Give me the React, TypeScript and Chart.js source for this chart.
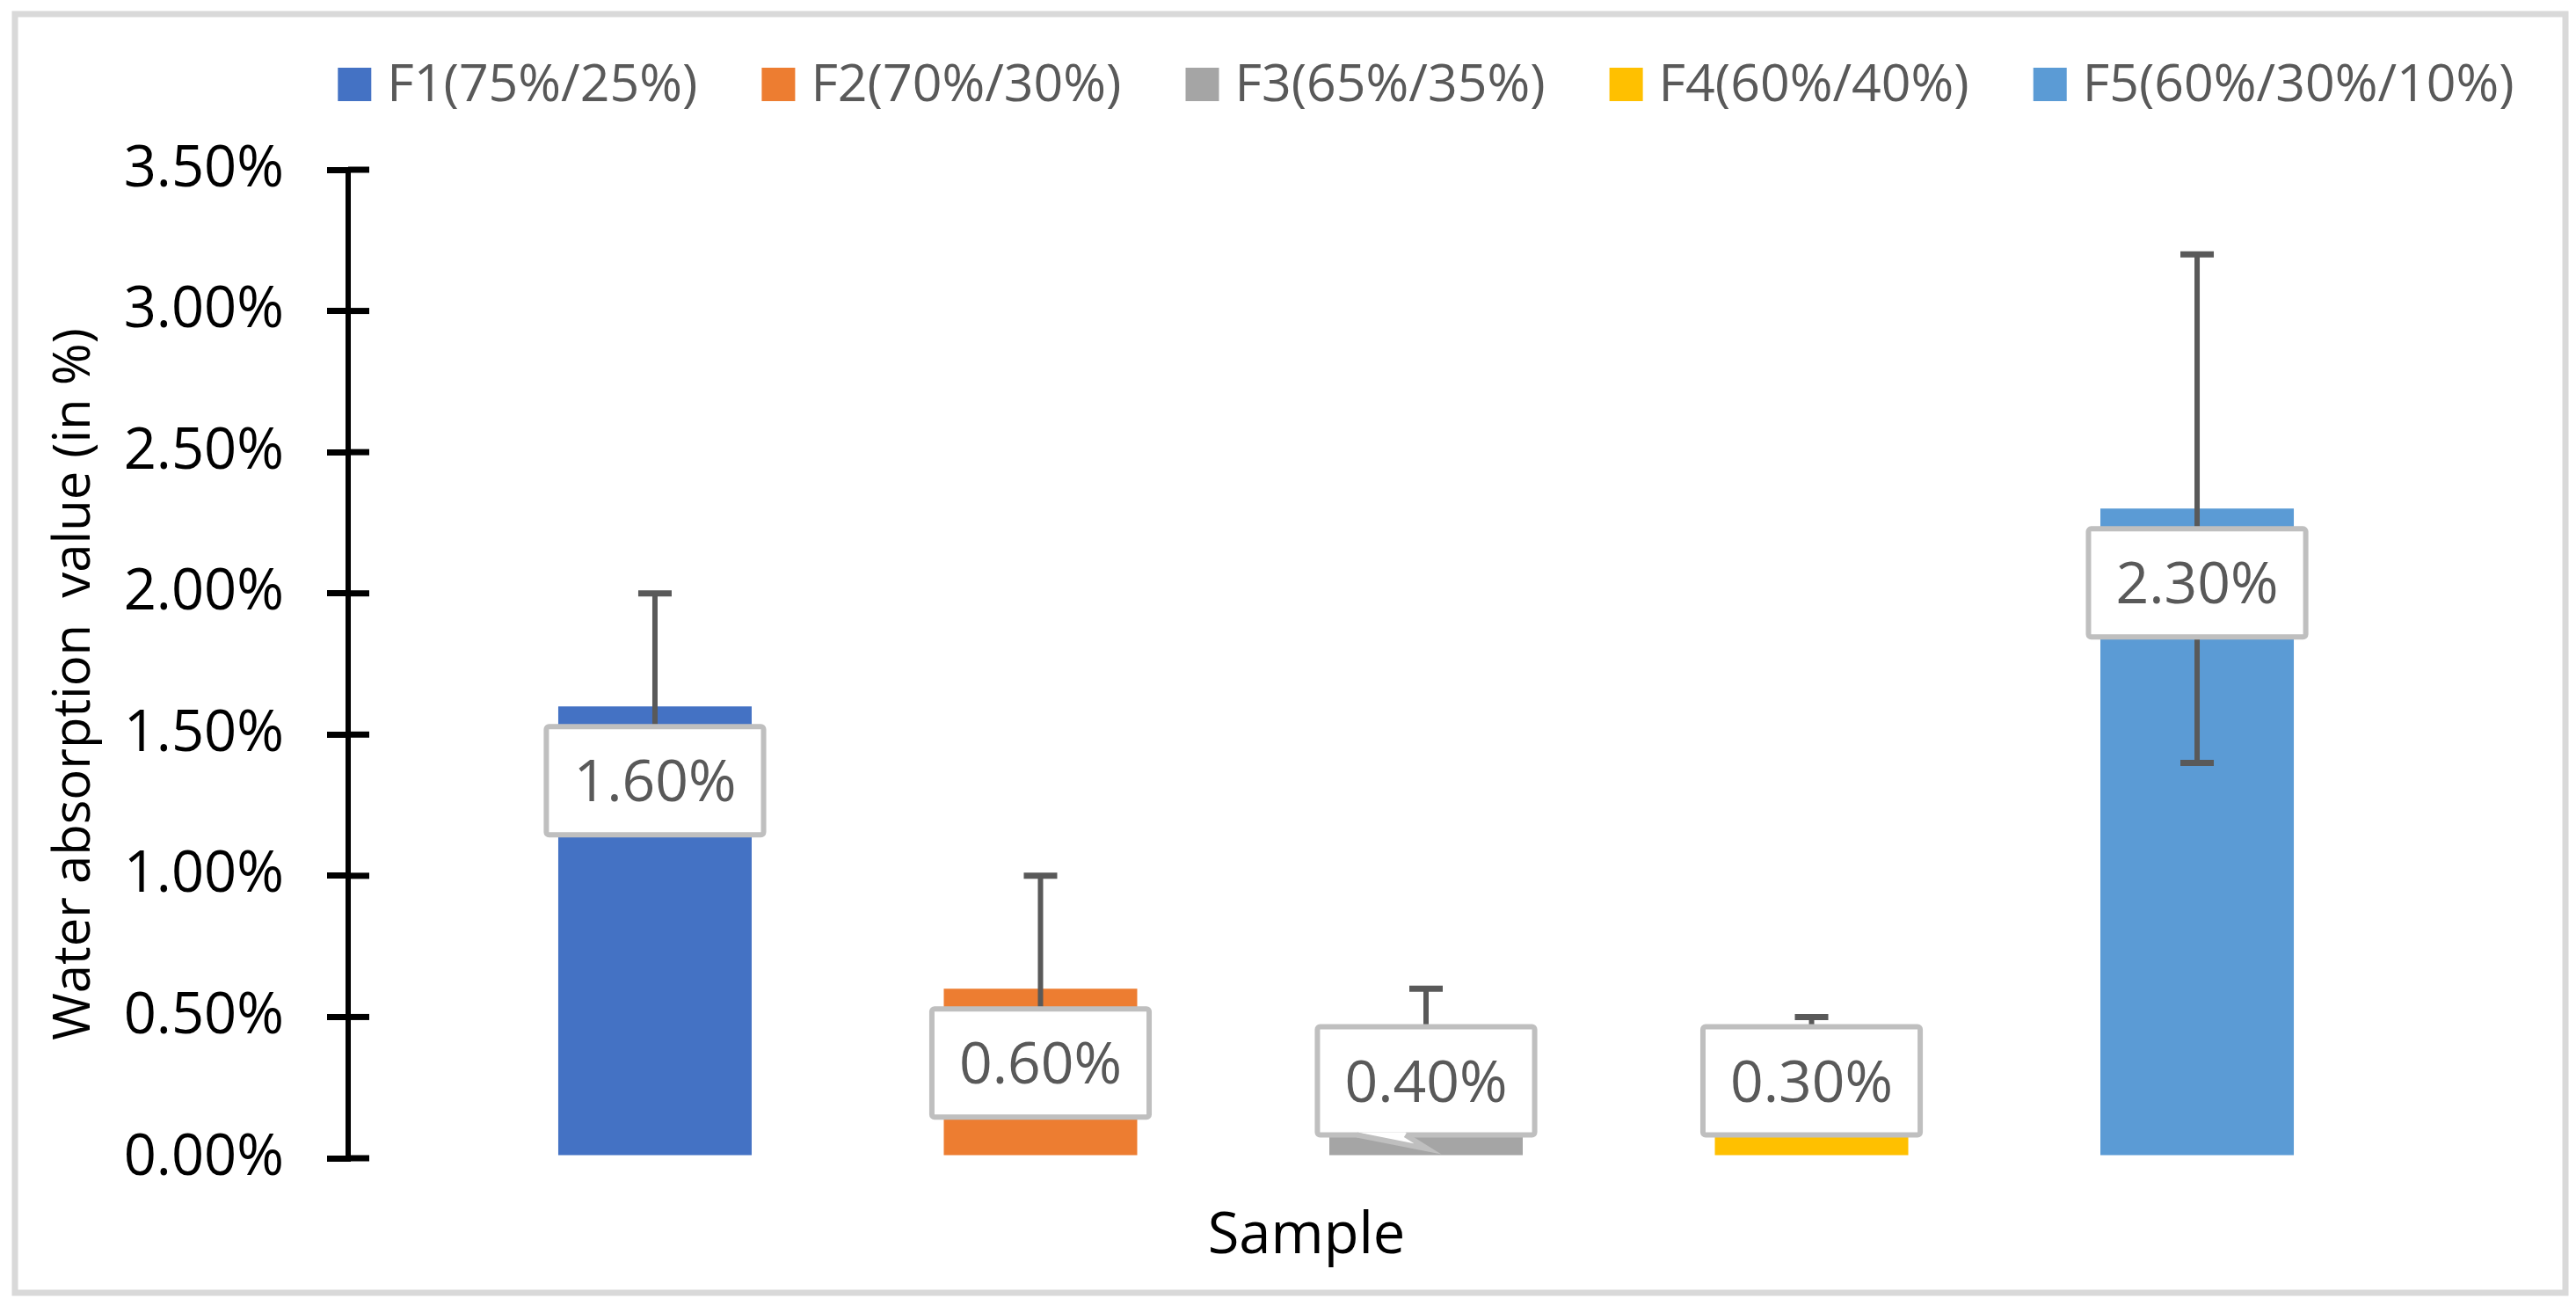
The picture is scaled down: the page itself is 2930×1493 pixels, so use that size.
import { useEffect, useRef } from 'react';
import { Chart, registerables, Plugin } from 'chart.js';

Chart.register(...registerables);

const FONT = '"Open Sans", "Noto Sans", sans-serif';

// chart data
const samples = ['F1(75%/25%)', 'F2(70%/30%)', 'F3(65%/35%)', 'F4(60%/40%)', 'F5(60%/30%/10%)'];
const absorption = [1.6, 0.6, 0.4, 0.3, 2.3];
const errorMargin = [0.4, 0.4, 0.2, 0.2, 0.9];
const colors = ['#4472C4', '#ED7D31', '#A5A5A5', '#FFC000', '#5B9BD5'];
const hasPointer = [false, false, true, false, false];

const yMin = 0;
const yMax = 3.5;
const yStep = 0.5;
const yTitle = 'Water absorption  value (in %)';
const xTitle = 'Sample';

const fmt = (v: number) => v.toFixed(2) + '%';

const decorations: Plugin<'bar'> = {
  id: 'decorations',
  beforeDraw(chart) {
    const { ctx, width, height } = chart;
    ctx.save();
    ctx.fillStyle = '#fff';
    ctx.fillRect(0, 0, width, height);
    // outer frame
    ctx.strokeStyle = '#D9D9D9';
    ctx.lineWidth = 7;
    ctx.strokeRect(17, 16, width - 29, height - 39);
    ctx.restore();
  },
  afterDatasetsDraw(chart) {
    const { ctx } = chart;
    const y = chart.scales.y;
    ctx.save();

    // error bars
    chart.data.datasets.forEach((ds, i) => {
      const bar: any = chart.getDatasetMeta(i).data[0];
      const v = ds.data[0] as number;
      const e = errorMargin[i];
      const top = y.getPixelForValue(v + e);
      const bottom = y.getPixelForValue(v - e);
      ctx.strokeStyle = '#595959';
      ctx.lineWidth = 6;
      ctx.beginPath();
      ctx.moveTo(bar.x, top);
      ctx.lineTo(bar.x, bottom);
      ctx.stroke();
      ctx.lineWidth = 7;
      ctx.beginPath();
      ctx.moveTo(bar.x - 19, top);
      ctx.lineTo(bar.x + 19, top);
      ctx.moveTo(bar.x - 19, bottom);
      ctx.lineTo(bar.x + 19, bottom);
      ctx.stroke();
    });

    // value callouts
    ctx.font = `66px ${FONT}`;
    chart.data.datasets.forEach((ds, i) => {
      const bar: any = chart.getDatasetMeta(i).data[0];
      const text = fmt(ds.data[0] as number);
      const w = ctx.measureText(text).width + 62;
      const h = 123;
      let top = bar.y + 23;
      if (top + h > bar.base - 23) top = bar.base - 23 - h;
      const left = bar.x - w / 2;

      ctx.fillStyle = '#fff';
      ctx.strokeStyle = '#BFBFBF';
      ctx.lineWidth = 6;
      ctx.beginPath();
      ctx.roundRect(left, top, w, h, 3);
      ctx.fill();
      ctx.stroke();

      if (hasPointer[i]) {
        const ax = left + 45;
        const bx = left + 100;
        const tipX = bar.x + 2;
        const tipY = bar.base - 7;
        ctx.beginPath();
        ctx.moveTo(ax, top + h - 3);
        ctx.lineTo(tipX, tipY);
        ctx.lineTo(bx, top + h - 3);
        ctx.closePath();
        ctx.fill();
        ctx.beginPath();
        ctx.moveTo(ax, top + h);
        ctx.lineTo(tipX, tipY);
        ctx.lineTo(bx, top + h);
        ctx.stroke();
      }

      ctx.fillStyle = '#595959';
      ctx.textAlign = 'center';
      ctx.textBaseline = 'alphabetic';
      ctx.fillText(text, bar.x, top + h / 2 + 66 * 0.357);
    });
    ctx.restore();
  },
  afterDraw(chart) {
    const { ctx, chartArea } = chart;
    const y = chart.scales.y;
    ctx.save();

    // inner half of the cross ticks
    ctx.strokeStyle = '#000';
    ctx.lineWidth = 7;
    y.ticks.forEach((_, idx) => {
      const py = y.getPixelForTick(idx);
      ctx.beginPath();
      ctx.moveTo(chartArea.left, py);
      ctx.lineTo(chartArea.left + 24, py);
      ctx.stroke();
    });

    // legend centred over the plot area
    ctx.font = `59px ${FONT}`;
    const box = 38;
    const gapText = 18;
    const gapItem = 73;
    const items = chart.data.datasets.map((ds) => ({
      label: ds.label as string,
      color: ds.backgroundColor as string,
      w: ctx.measureText(ds.label as string).width,
    }));
    const total = items.reduce((s, it) => s + box + gapText + it.w, 0) + gapItem * (items.length - 1);
    let x = (chartArea.left + chartArea.right) / 2 - total / 2;
    const baseline = 115;
    ctx.textAlign = 'left';
    ctx.textBaseline = 'alphabetic';
    items.forEach((it) => {
      ctx.fillStyle = it.color;
      ctx.fillRect(x, baseline - box, box, box);
      ctx.fillStyle = '#595959';
      ctx.fillText(it.label, x + box + gapText, baseline);
      x += box + gapText + it.w + gapItem;
    });

    // axis titles
    ctx.fillStyle = '#000';
    ctx.textAlign = 'center';
    ctx.font = `65px ${FONT}`;
    ctx.fillText(xTitle, 1486, 1425);

    ctx.font = `58px ${FONT}`;
    ctx.translate(102, 778);
    ctx.rotate(-Math.PI / 2);
    ctx.fillText(yTitle, 0, 0);
    ctx.restore();
  },
};

export default function App() {
  const canvasRef = useRef<HTMLCanvasElement>(null);

  useEffect(() => {
    document.body.style.margin = '0';
    if (!canvasRef.current) return;

    const chart = new Chart(canvasRef.current, {
      type: 'bar',
      data: {
        labels: [''],
        datasets: samples.map((s, i) => ({
          label: s,
          data: [absorption[i]],
          backgroundColor: colors[i],
          borderWidth: 0,
          categoryPercentage: 0.8942,
          barPercentage: 0.5017,
        })),
      },
      options: {
        animation: false,
        responsive: true,
        maintainAspectRatio: false,
        devicePixelRatio: 1,
        layout: { padding: { left: 0, top: 193, right: 82, bottom: 176 } },
        plugins: {
          legend: { display: false },
          tooltip: { enabled: false },
        },
        scales: {
          x: { display: false },
          y: {
            min: yMin,
            max: yMax,
            ticks: {
              stepSize: yStep,
              color: '#000',
              padding: 49,
              font: { family: FONT, size: 65 },
              callback: (v) => fmt(Number(v)),
            },
            grid: {
              drawOnChartArea: false,
              drawTicks: true,
              tickLength: 24,
              lineWidth: 7,
              color: '#000',
            },
            border: { display: true, color: '#000', width: 6 },
            afterFit: (scale) => {
              scale.width = 396;
            },
          },
        },
      },
      plugins: [decorations],
    });

    return () => {
      chart.destroy();
    };
  }, []);

  return (
    <div style={{ width: 2930, height: 1493, position: 'relative' }}>
      <canvas ref={canvasRef} />
    </div>
  );
}
